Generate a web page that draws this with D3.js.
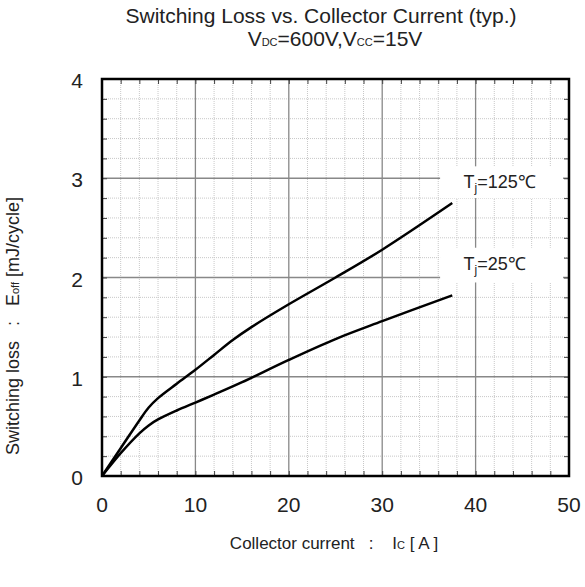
<!DOCTYPE html>
<html>
<head>
<meta charset="utf-8">
<script src="https://cdn.jsdelivr.net/npm/d3@7"></script>
<style>
  body { margin: 0; background: #fff; }
  text { font-family: "Liberation Sans", Arial, sans-serif; fill: #222; }
</style>
</head>
<body>
<div id="chart"></div>
<script>
// curve data: [Ic (A), Eoff (mJ/cycle)]
var tj125 = [[0,0],[2,0.28],[4,0.56],[5,0.69],[6,0.785],[8,0.93],[10,1.07],[12,1.22],[14,1.37],[16,1.50],[20,1.73],[25,2.0],[30,2.28],[37.5,2.75]];
var tj25 = [[0,0],[2,0.23],[4,0.43],[5,0.51],[6,0.57],[8,0.66],[10,0.74],[12,0.82],[15,0.945],[20,1.17],[25,1.38],[30,1.56],[37.5,1.82]];
var xTicks = [0, 10, 20, 30, 40, 50];
var yTicks = [0, 1, 2, 3, 4];

var width = 585, height = 587;
var margin = {top: 79, right: 16, bottom: 111, left: 102};
var w = width - margin.left - margin.right;
var h = height - margin.top - margin.bottom;

var svg = d3.select("#chart").append("svg")
    .attr("width", width)
    .attr("height", height);

var x = d3.scaleLinear().domain([0, 50]).range([0, w]);
var y = d3.scaleLinear().domain([0, 4]).range([h, 0]);

var g = svg.append("g")
    .attr("transform", "translate(" + margin.left + "," + margin.top + ")");

// minor grid (every 2 A / 0.2 mJ)
var xMinor = d3.range(0, 51, 2).filter(function(d) { return d % 10 != 0; });
var yMinor = d3.range(1, 20).filter(function(d) { return d % 5 != 0; }).map(function(d) { return d / 5; });

g.selectAll(".vminor").data(xMinor).enter().append("line")
    .attr("x1", function(d) { return x(d); }).attr("x2", function(d) { return x(d); })
    .attr("y1", 0).attr("y2", h)
    .attr("stroke", "#c8c8c8").attr("stroke-dasharray", "1,1");
g.selectAll(".hminor").data(yMinor).enter().append("line")
    .attr("y1", function(d) { return y(d); }).attr("y2", function(d) { return y(d); })
    .attr("x1", 0).attr("x2", w)
    .attr("stroke", "#c8c8c8").attr("stroke-dasharray", "1,1");

// major grid
g.selectAll(".vmajor").data(xTicks.slice(1, -1)).enter().append("line")
    .attr("x1", function(d) { return x(d); }).attr("x2", function(d) { return x(d); })
    .attr("y1", 0).attr("y2", h)
    .attr("stroke", "#888").attr("stroke-width", 1.3);
g.selectAll(".hmajor").data(yTicks.slice(1, -1)).enter().append("line")
    .attr("y1", function(d) { return y(d); }).attr("y2", function(d) { return y(d); })
    .attr("x1", 0).attr("x2", w)
    .attr("stroke", "#888").attr("stroke-width", 1.3);

// inward ticks on all four sides
var xAll = d3.range(0, 51, 2), yAll = d3.range(0, 21).map(function(d) { return d / 5; });
g.append("g").call(d3.axisBottom(x).tickValues(xAll).tickSize(-5).tickFormat(""))
    .attr("transform", "translate(0," + h + ")");
g.append("g").call(d3.axisTop(x).tickValues(xAll).tickSize(-5).tickFormat(""));
g.append("g").call(d3.axisLeft(y).tickValues(yAll).tickSize(-5).tickFormat(""));
g.append("g").call(d3.axisRight(y).tickValues(yAll).tickSize(-5).tickFormat(""))
    .attr("transform", "translate(" + w + ",0)");
g.selectAll(".domain").remove();
g.selectAll(".tick line").attr("stroke", "#444");

// white boxes behind the curve labels
var labelBoxes = [{y0: 3.12, y1: 2.8, text: "125"}, {y0: 2.3, y1: 1.95, text: "25"}];
g.selectAll(".lbox").data(labelBoxes).enter().append("rect")
    .attr("x", x(36.2)).attr("width", w - x(36.2) - 6)
    .attr("y", function(d) { return y(d.y0); })
    .attr("height", function(d) { return y(d.y1) - y(d.y0); })
    .attr("fill", "#fff");

// curves
var line = d3.line()
    .x(function(d) { return x(d[0]); })
    .y(function(d) { return y(d[1]); })
    .curve(d3.curveCatmullRom.alpha(0.5));

g.selectAll(".curve").data([tj125, tj25]).enter().append("path")
    .attr("d", line)
    .attr("fill", "none")
    .attr("stroke", "#000")
    .attr("stroke-width", 2.5);

// frame
g.append("rect").attr("width", w).attr("height", h)
    .attr("fill", "none").attr("stroke", "#000").attr("stroke-width", 2.5);

// tick labels
g.selectAll(".xl").data(xTicks).enter().append("text")
    .attr("x", function(d) { return x(d); })
    .attr("y", h + 36)
    .attr("text-anchor", "middle")
    .style("font-size", "21px")
    .text(function(d) { return d; });
g.selectAll(".yl").data(yTicks).enter().append("text")
    .attr("x", -19)
    .attr("y", function(d) { return y(d) + 9; })
    .attr("text-anchor", "end")
    .style("font-size", "21px")
    .text(function(d) { return d; });

// curve labels
g.selectAll(".lt").data(labelBoxes).enter().append("text")
    .attr("x", x(38.7))
    .attr("y", function(d) { return y(d.y0) + 22; })
    .style("font-size", "18px")
    .each(function(d) {
        var t = d3.select(this);
        t.append("tspan").text("T");
        t.append("tspan").attr("dy", 4).style("font-size", "12px").text("j");
        t.append("tspan").attr("dy", -4).text("=" + d.text + "\u2103");
    });

// titles
svg.append("text")
    .attr("x", 321).attr("y", 23)
    .attr("text-anchor", "middle")
    .style("font-size", "21px")
    .text("Switching Loss vs. Collector Current (typ.)");

var sub = svg.append("text")
    .attr("x", 335).attr("y", 46)
    .attr("text-anchor", "middle")
    .style("font-size", "21px");
sub.append("tspan").text("V");
sub.append("tspan").style("font-size", "11px").text("DC");
sub.append("tspan").text("=600V,V");
sub.append("tspan").style("font-size", "11px").text("CC");
sub.append("tspan").text("=15V");

// axis titles
var xt = svg.append("text")
    .attr("x", 334).attr("y", 549)
    .attr("text-anchor", "middle")
    .style("font-size", "17px");
xt.append("tspan").text("Collector current \u00A0\u00A0:\u00A0\u00A0\u00A0 I");
xt.append("tspan").style("font-size", "11px").text("C");
xt.append("tspan").text(" [ A ]");

var yt = svg.append("text")
    .attr("transform", "translate(19,326) rotate(-90)")
    .attr("text-anchor", "middle")
    .style("font-size", "18px");
yt.append("tspan").text("Switching loss \u00A0\u00A0:\u00A0\u00A0 E");
yt.append("tspan").style("font-size", "11px").text("off");
yt.append("tspan").text(" [mJ/cycle]");
</script>
</body>
</html>
